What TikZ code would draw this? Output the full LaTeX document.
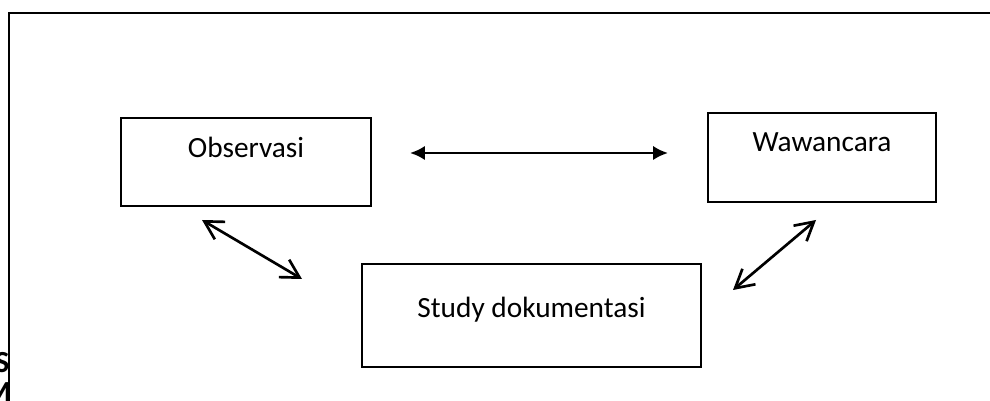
\documentclass[tikz,border=0pt]{standalone}
\usepackage{fontspec}
\setmainfont{Carlito}
\usetikzlibrary{arrows.meta}

\begin{document}
\begin{tikzpicture}[
        x=0.375pt, y=-0.375pt,
        box/.style={rectangle, draw=black, line width=1pt, inner sep=0pt, font=\fontsize{11}{13}\selectfont},
        arrow/.style={{Latex[length=5.6pt,width=5.4pt]}-{Latex[length=5.6pt,width=5.4pt]}, line width=1pt},
        barb/.style={{Straight Barb[length=6.8pt,width=7.6pt]}-{Straight Barb[length=6.8pt,width=7.6pt]}, line width=1pt},
        cut/.style={font=\fontsize{11.5}{13}\selectfont\bfseries, inner sep=0pt, anchor=base east}
    ]
        \clip (0,0) rectangle (990,401);

        % frame
        \draw[line width=1pt] (9,401) -- (9,13) -- (991,13);
        \node[cut] (s) at (10,373) {S};
        \node[cut] (m) at (12,402) {M};

        \node[box, minimum width=93.75pt, text height=15pt, text depth=18pt] (obs) at (246,162) {Observasi};
        \node[box, minimum width=85.5pt, text height=14.6pt, text depth=18.75pt] (waw) at (822,157.5) {Wawancara};
        \node[box, minimum width=127.1pt, text height=19.9pt, text depth=18.75pt] (study) at (531.5,315.5) {Study dokumentasi};

        \coordinate (ow1) at (410,153);
        \coordinate (ow2) at (668,153);
        \coordinate (os1) at (202,220);
        \coordinate (os2) at (302,279);
        \coordinate (ws1) at (816,220);
        \coordinate (ws2) at (733,290);

        \draw[arrow] (ow1) -- (ow2);
        \draw[barb] (os1) -- (os2);
        \draw[barb] (ws1) -- (ws2);
    \end{tikzpicture}
\end{document}
